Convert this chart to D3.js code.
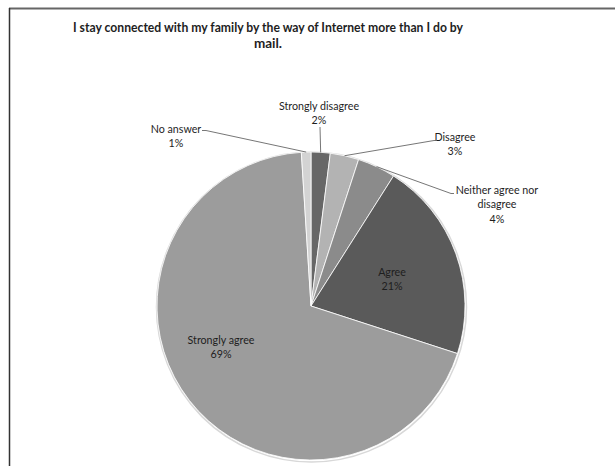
<!DOCTYPE html>
<html><head><meta charset="utf-8">
<script src="https://cdn.jsdelivr.net/npm/d3@7"></script>
<style>body{margin:0;background:#fff}svg{display:block}text{font-family:Lato,"Open Sans",sans-serif;fill:#1e1e1e}</style>
</head><body>
<script>
const categories = ["Strongly disagree","Disagree","Neither agree nor disagree","Agree","Strongly agree","No answer"];
const values = [2,3,4,21,69,1];
const percentLabels = ["2%","3%","4%","21%","69%","1%"];
const colors = ["#676767","#b3b3b3","#8b8b8b","#5a5a5a","#9c9c9c","#d3d3d3"];
const titleLines = ["I stay connected with my family by the way of Internet more than I do by","mail."];

const W = 615, H = 466;
const svg = d3.select("body").append("svg").attr("width", W).attr("height", H);

// chart frame
svg.append("line").attr("x1",9).attr("x2",W).attr("y1",8.5).attr("y2",8.5).attr("stroke","#666").attr("stroke-width",2);
svg.append("line").attr("x1",9.5).attr("x2",9.5).attr("y1",8).attr("y2",H).attr("stroke","#333").attr("stroke-width",1.5);

// title
const title = svg.append("text").attr("text-anchor","middle").style("font-weight","bold").style("font-size","13.5px");
titleLines.forEach((t,i)=>{
  const ts = title.append("tspan").attr("x",268).attr("y",32+i*16).text(t);
  if (i===0) ts.attr("textLength",390).attr("lengthAdjust","spacingAndGlyphs");
});

const cx = 311, cy = 306, R = 154;
const g = svg.append("g").attr("transform",`translate(${cx},${cy})`);

// faint outer shadow
g.append("circle").attr("r",R+1).attr("cx",0.5).attr("cy",1).attr("fill","none").attr("stroke","#d8d8d8").attr("stroke-width",1.5);

const pie = d3.pie().sort(null).value(d=>d);
const arcs = pie(values);
const arc = d3.arc().innerRadius(0).outerRadius(R);
g.selectAll("path").data(arcs).join("path")
  .attr("d",arc).attr("fill",(d,i)=>colors[i]).attr("stroke","#fff").attr("stroke-width",0.8);

// label layout (positions of label text blocks, relative to svg)
const labelLayout = [
  {x:319, y:110, anchor:"middle", lines:["Strongly disagree"], leader:[[320,127]]},
  {x:455, y:141, anchor:"middle", lines:["Disagree"], leader:[[437,140.5],[434,140.5]]},
  {x:497, y:194, anchor:"middle", lines:["Neither agree nor","disagree"], leader:[[454,193.5],[451,193.5]]},
  {x:392, y:276, anchor:"middle", lines:["Agree"], leader:null},
  {x:221, y:344, anchor:"middle", lines:["Strongly agree"], leader:null},
  {x:176, y:133, anchor:"middle", lines:["No answer"], leader:[[202,130.5],[206,130.5]]}
];

arcs.forEach((a,i)=>{
  const L = labelLayout[i];
  const t = svg.append("text").attr("text-anchor",L.anchor).style("font-size","10.7px");
  const all = L.lines.concat([percentLabels[i]]);
  all.forEach((s,k)=>t.append("tspan").attr("x",L.x).attr("y",L.y+k*14.3).text(s));
  if (L.leader){
    const mid = (a.startAngle+a.endAngle)/2;
    const p0 = [cx + R*Math.sin(mid), cy - R*Math.cos(mid)];
    const pts = [p0].concat(L.leader.slice().reverse());
    svg.append("path").attr("d", d3.line()(pts)).attr("fill","none").attr("stroke","#666").attr("stroke-width",0.9);
  }
});
</script>
</body></html>
